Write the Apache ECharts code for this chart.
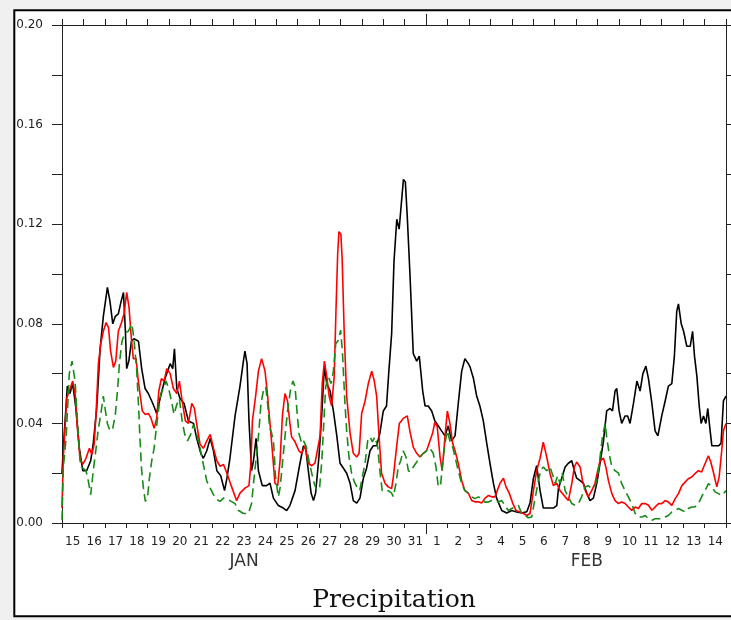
<!DOCTYPE html>
<html>
<head>
<meta charset="utf-8">
<script src="https://cdn.jsdelivr.net/npm/echarts@6/dist/echarts.min.js"></script>
<style>
html,body{margin:0;padding:0;background:#f0f0f0;}
#chart{width:731px;height:620px;}
</style>
</head>
<body>
<div id="chart"></div>
<script>
// Day labels (Jan 15 .. Feb 14), each centred in its day
var dayLabels = ['15','16','17','18','19','20','21','22','23','24','25','26','27','28','29','30','31','1','2','3','4','5','6','7','8','9','10','11','12','13','14'];
var monthLabels = ['','','','','','','','','JAN','','','','','','','','','','','','','','','','FEB','','','','','','',''];
var monthBoundary = [17];
var yTicks = [0, 0.04, 0.08, 0.12, 0.16, 0.20];

// [days since Jan 15 00:00, precipitation]
var blackSeries = [[0,0.020],[0.06,0.030],[0.25,0.055],[0.37,0.052],[0.5,0.056],[0.65,0.046],[0.81,0.030],[0.97,0.021],[1.15,0.021],[1.34,0.025],[1.46,0.032],[1.62,0.046],[1.78,0.070],[1.93,0.083],[2.12,0.0946],[2.24,0.089],[2.37,0.080],[2.49,0.083],[2.63,0.084],[2.76,0.089],[2.87,0.0926],[2.96,0.077],[3.02,0.062],[3.12,0.065],[3.24,0.073],[3.36,0.074],[3.57,0.073],[3.72,0.062],[3.88,0.054],[4.03,0.052],[4.24,0.048],[4.42,0.044],[4.58,0.050],[4.81,0.058],[5.05,0.064],[5.17,0.062],[5.25,0.070],[5.36,0.054],[5.51,0.050],[5.70,0.048],[5.90,0.041],[6.14,0.040],[6.29,0.034],[6.48,0.028],[6.60,0.026],[6.76,0.029],[6.92,0.034],[7.07,0.029],[7.23,0.021],[7.41,0.019],[7.59,0.013],[7.70,0.018],[7.84,0.026],[8.08,0.043],[8.31,0.055],[8.47,0.065],[8.54,0.069],[8.64,0.064],[8.73,0.041],[8.85,0.021],[8.94,0.025],[9.06,0.034],[9.17,0.021],[9.35,0.015],[9.55,0.015],[9.71,0.016],[9.87,0.010],[10.10,0.007],[10.33,0.006],[10.49,0.005],[10.64,0.007],[10.88,0.013],[11.11,0.024],[11.27,0.031],[11.38,0.030],[11.50,0.021],[11.63,0.012],[11.74,0.009],[11.84,0.012],[12.0,0.027],[12.13,0.044],[12.25,0.063],[12.36,0.056],[12.52,0.053],[12.67,0.045],[12.83,0.035],[12.98,0.024],[13.14,0.022],[13.29,0.020],[13.45,0.016],[13.60,0.009],[13.76,0.008],[13.91,0.010],[14.07,0.018],[14.22,0.022],[14.38,0.029],[14.53,0.031],[14.69,0.031],[14.84,0.036],[15.0,0.045],[15.15,0.047],[15.26,0.061],[15.39,0.076],[15.50,0.105],[15.63,0.122],[15.74,0.118],[15.81,0.125],[15.94,0.138],[16.03,0.137],[16.12,0.123],[16.25,0.099],[16.40,0.068],[16.56,0.065],[16.68,0.067],[16.84,0.053],[16.95,0.047],[17.10,0.047],[17.26,0.045],[17.41,0.041],[17.57,0.039],[17.72,0.037],[17.88,0.035],[18.03,0.039],[18.19,0.033],[18.35,0.035],[18.50,0.048],[18.66,0.061],[18.81,0.066],[18.97,0.064],[19.05,0.0627],[19.21,0.058],[19.36,0.051],[19.51,0.047],[19.67,0.041],[19.83,0.032],[19.98,0.024],[20.14,0.016],[20.29,0.010],[20.53,0.005],[20.76,0.004],[21.0,0.005],[21.23,0.0044],[21.46,0.004],[21.70,0.0045],[21.85,0.008],[22.01,0.018],[22.16,0.023],[22.32,0.013],[22.47,0.006],[22.71,0.006],[22.94,0.006],[23.10,0.007],[23.18,0.014],[23.33,0.018],[23.49,0.0225],[23.64,0.024],[23.80,0.025],[23.92,0.021],[24.03,0.018],[24.19,0.017],[24.34,0.016],[24.50,0.012],[24.65,0.009],[24.81,0.010],[24.97,0.016],[25.12,0.024],[25.28,0.033],[25.43,0.045],[25.59,0.046],[25.70,0.045],[25.82,0.053],[25.90,0.054],[26.01,0.045],[26.13,0.040],[26.29,0.043],[26.41,0.043],[26.52,0.040],[26.68,0.048],[26.84,0.057],[26.99,0.053],[27.12,0.060],[27.26,0.063],[27.38,0.058],[27.54,0.048],[27.69,0.037],[27.82,0.035],[28.0,0.043],[28.16,0.049],[28.31,0.055],[28.47,0.056],[28.59,0.067],[28.70,0.085],[28.78,0.088],[28.91,0.080],[29.02,0.077],[29.17,0.071],[29.33,0.071],[29.44,0.077],[29.53,0.067],[29.64,0.059],[29.75,0.047],[29.84,0.040],[29.95,0.043],[30.06,0.040],[30.15,0.046],[30.26,0.037],[30.34,0.031],[30.49,0.031],[30.65,0.031],[30.77,0.032],[30.88,0.049],[31.0,0.051]];

var redSeries = [[0,0.006],[0.06,0.026],[0.22,0.050],[0.34,0.053],[0.5,0.057],[0.61,0.052],[0.72,0.038],[0.84,0.026],[0.97,0.0235],[1.12,0.026],[1.28,0.030],[1.39,0.0275],[1.50,0.0315],[1.59,0.044],[1.70,0.064],[1.81,0.072],[1.93,0.077],[2.06,0.0805],[2.17,0.0785],[2.27,0.069],[2.40,0.0625],[2.51,0.065],[2.63,0.077],[2.76,0.080],[2.90,0.084],[3.02,0.0926],[3.13,0.0866],[3.22,0.076],[3.33,0.066],[3.46,0.066],[3.55,0.058],[3.64,0.052],[3.75,0.045],[3.89,0.0436],[4.03,0.044],[4.16,0.042],[4.30,0.038],[4.42,0.042],[4.52,0.053],[4.64,0.058],[4.77,0.057],[4.89,0.062],[5.05,0.060],[5.20,0.054],[5.36,0.052],[5.48,0.057],[5.61,0.049],[5.76,0.041],[5.90,0.040],[6.06,0.048],[6.18,0.046],[6.32,0.038],[6.45,0.0315],[6.60,0.030],[6.76,0.033],[6.92,0.0356],[7.07,0.030],[7.23,0.025],[7.38,0.0228],[7.54,0.0235],[7.70,0.020],[7.92,0.0145],[8.15,0.009],[8.31,0.012],[8.54,0.014],[8.73,0.015],[8.82,0.024],[8.89,0.041],[9.04,0.051],[9.17,0.061],[9.32,0.066],[9.48,0.061],[9.60,0.051],[9.71,0.040],[9.82,0.029],[9.94,0.016],[10.07,0.015],[10.18,0.025],[10.29,0.043],[10.41,0.052],[10.53,0.049],[10.64,0.040],[10.72,0.0346],[10.88,0.0326],[11.06,0.029],[11.19,0.028],[11.35,0.031],[11.50,0.024],[11.66,0.023],[11.81,0.024],[12.05,0.035],[12.15,0.056],[12.25,0.065],[12.36,0.059],[12.47,0.051],[12.59,0.047],[12.71,0.059],[12.79,0.085],[12.87,0.108],[12.93,0.117],[13.02,0.116],[13.08,0.106],[13.18,0.075],[13.29,0.051],[13.45,0.036],[13.60,0.028],[13.76,0.0265],[13.87,0.028],[13.99,0.044],[14.15,0.049],[14.30,0.056],[14.46,0.061],[14.58,0.057],[14.69,0.051],[14.80,0.035],[14.92,0.020],[15.08,0.016],[15.23,0.0145],[15.39,0.0138],[15.47,0.0185],[15.62,0.0305],[15.75,0.040],[15.93,0.042],[16.12,0.043],[16.24,0.037],[16.40,0.0305],[16.56,0.028],[16.71,0.0265],[16.87,0.028],[17.02,0.029],[17.18,0.033],[17.30,0.036],[17.41,0.0406],[17.52,0.0386],[17.65,0.0265],[17.75,0.021],[17.88,0.0346],[17.99,0.045],[18.11,0.040],[18.24,0.032],[18.35,0.029],[18.50,0.024],[18.66,0.017],[18.81,0.013],[18.97,0.012],[19.13,0.009],[19.28,0.0085],[19.44,0.0085],[19.59,0.008],[19.75,0.010],[19.90,0.011],[20.06,0.0105],[20.21,0.0105],[20.32,0.013],[20.45,0.016],[20.61,0.018],[20.73,0.0145],[20.88,0.012],[21.04,0.008],[21.20,0.005],[21.38,0.0044],[21.54,0.0038],[21.70,0.003],[21.85,0.0038],[22.01,0.013],[22.16,0.021],[22.32,0.026],[22.47,0.0325],[22.63,0.0265],[22.78,0.020],[22.94,0.015],[23.10,0.016],[23.25,0.013],[23.33,0.0125],[23.49,0.0105],[23.64,0.009],[23.80,0.0158],[23.92,0.0225],[24.03,0.0245],[24.19,0.0225],[24.30,0.017],[24.43,0.013],[24.57,0.0105],[24.73,0.013],[24.88,0.0158],[25.01,0.021],[25.12,0.025],[25.28,0.026],[25.39,0.0225],[25.51,0.017],[25.67,0.0118],[25.82,0.009],[25.98,0.0078],[26.13,0.0084],[26.29,0.0078],[26.44,0.0064],[26.60,0.0051],[26.76,0.0064],[26.91,0.0058],[27.07,0.0078],[27.23,0.0078],[27.38,0.0071],[27.54,0.0051],[27.69,0.0064],[27.85,0.0078],[28.0,0.0078],[28.16,0.009],[28.31,0.0084],[28.47,0.0071],[28.63,0.0098],[28.78,0.0118],[28.94,0.015],[29.10,0.0165],[29.24,0.0178],[29.40,0.0185],[29.55,0.0198],[29.71,0.021],[29.86,0.0205],[30.02,0.0238],[30.18,0.027],[30.29,0.0245],[30.41,0.0205],[30.57,0.0145],[30.68,0.0185],[30.80,0.029],[30.88,0.037],[31.0,0.040]];

var greenSeries = [[0,0.0013],[0.06,0.022],[0.19,0.034],[0.34,0.060],[0.47,0.065],[0.61,0.057],[0.72,0.041],[0.84,0.025],[0.97,0.022],[1.12,0.021],[1.23,0.0168],[1.34,0.0114],[1.46,0.021],[1.59,0.030],[1.70,0.038],[1.81,0.0436],[1.93,0.051],[2.01,0.046],[2.12,0.040],[2.24,0.037],[2.37,0.038],[2.49,0.0436],[2.59,0.053],[2.68,0.064],[2.80,0.073],[2.94,0.0765],[3.10,0.077],[3.26,0.080],[3.36,0.074],[3.49,0.061],[3.58,0.046],[3.64,0.034],[3.71,0.022],[3.80,0.014],[3.89,0.0087],[3.99,0.010],[4.08,0.018],[4.19,0.025],[4.30,0.030],[4.39,0.037],[4.50,0.045],[4.61,0.052],[4.74,0.054],[4.86,0.057],[4.98,0.054],[5.11,0.049],[5.23,0.0436],[5.36,0.0476],[5.48,0.050],[5.61,0.041],[5.73,0.0356],[5.86,0.033],[6.01,0.0356],[6.14,0.0396],[6.29,0.0356],[6.45,0.030],[6.60,0.0235],[6.76,0.0168],[6.92,0.014],[7.07,0.0114],[7.23,0.0094],[7.38,0.0087],[7.54,0.010],[7.70,0.0094],[7.84,0.009],[8.08,0.0078],[8.23,0.0051],[8.47,0.0038],[8.70,0.0038],[8.85,0.0078],[8.94,0.0158],[9.04,0.024],[9.17,0.0346],[9.29,0.048],[9.40,0.053],[9.51,0.0547],[9.60,0.048],[9.69,0.0386],[9.79,0.036],[9.88,0.032],[9.97,0.0185],[10.10,0.0105],[10.19,0.0145],[10.29,0.024],[10.41,0.0346],[10.53,0.045],[10.66,0.053],[10.78,0.057],[10.88,0.0547],[10.97,0.045],[11.06,0.036],[11.19,0.032],[11.28,0.033],[11.41,0.0305],[11.53,0.025],[11.66,0.020],[11.78,0.0158],[11.90,0.013],[12.03,0.0145],[12.13,0.025],[12.22,0.040],[12.31,0.0547],[12.44,0.0587],[12.56,0.056],[12.67,0.061],[12.78,0.072],[12.90,0.0734],[13.01,0.0774],[13.09,0.069],[13.15,0.0587],[13.21,0.048],[13.29,0.037],[13.40,0.0265],[13.52,0.020],[13.65,0.0165],[13.77,0.0145],[13.90,0.013],[14.02,0.0185],[14.15,0.024],[14.27,0.033],[14.38,0.0346],[14.49,0.0326],[14.61,0.0346],[14.74,0.0305],[14.84,0.021],[14.95,0.013],[15.08,0.0125],[15.23,0.013],[15.39,0.012],[15.47,0.0105],[15.59,0.0158],[15.70,0.0225],[15.81,0.025],[15.93,0.029],[16.06,0.0265],[16.17,0.021],[16.27,0.0205],[16.40,0.0225],[16.56,0.0245],[16.71,0.0265],[16.87,0.028],[17.02,0.029],[17.18,0.030],[17.33,0.028],[17.46,0.0225],[17.57,0.0145],[17.68,0.0158],[17.77,0.024],[17.88,0.032],[17.99,0.037],[18.11,0.033],[18.24,0.0305],[18.35,0.0265],[18.50,0.021],[18.66,0.0158],[18.81,0.013],[18.97,0.012],[19.13,0.0105],[19.28,0.0098],[19.44,0.0105],[19.59,0.0098],[19.75,0.0084],[19.90,0.0084],[20.06,0.009],[20.21,0.009],[20.37,0.0084],[20.53,0.009],[20.68,0.007],[20.84,0.005],[21.0,0.0058],[21.15,0.0064],[21.31,0.007],[21.46,0.0038],[21.62,0.003],[21.77,0.0021],[21.93,0.0024],[22.04,0.0078],[22.13,0.0118],[22.24,0.017],[22.35,0.021],[22.47,0.0225],[22.63,0.021],[22.78,0.0225],[22.94,0.0185],[23.02,0.0158],[23.14,0.019],[23.25,0.0158],[23.36,0.020],[23.49,0.013],[23.64,0.0105],[23.80,0.0078],[23.95,0.0071],[24.11,0.0078],[24.26,0.0105],[24.42,0.0145],[24.57,0.015],[24.73,0.0138],[24.88,0.0145],[25.01,0.0185],[25.12,0.0265],[25.23,0.0345],[25.36,0.040],[25.43,0.0345],[25.54,0.028],[25.67,0.0225],[25.82,0.021],[25.98,0.020],[26.13,0.0158],[26.29,0.013],[26.44,0.0105],[26.60,0.0078],[26.76,0.0038],[26.91,0.0024],[27.07,0.0024],[27.23,0.003],[27.38,0.0017],[27.54,0.0011],[27.69,0.0017],[27.85,0.0017],[28.0,0.0017],[28.16,0.0024],[28.31,0.003],[28.47,0.0044],[28.63,0.0051],[28.78,0.0058],[28.94,0.0051],[29.10,0.0044],[29.24,0.0058],[29.40,0.0064],[29.55,0.0064],[29.71,0.0078],[29.86,0.0105],[30.02,0.013],[30.18,0.0158],[30.34,0.0145],[30.49,0.0125],[30.65,0.0118],[30.80,0.011],[31.0,0.013]];

var chart = echarts.init(document.getElementById('chart'), null, {renderer: 'canvas'});
var axisColor = '#222';
var labelFont = 'DejaVu Sans';
var nDays = dayLabels.length;

function valueX(pos, tickLen, extra) {
  var ax = {
    type: 'value', min: 0, max: nDays, interval: 1, position: pos,
    axisLine: {show: true, onZero: false, lineStyle: {color: axisColor, width: 1}},
    axisTick: {show: true, inside: false, length: tickLen, lineStyle: {color: axisColor, width: 1}},
    axisLabel: {show: false}, splitLine: {show: false}
  };
  if (extra) { for (var k in extra) ax[k] = extra[k]; }
  return ax;
}

var option = {
  backgroundColor: '#f0f0f0',
  animation: false,
  grid: {left: 62, right: 5, top: 25, bottom: 97, containLabel: false},
  graphic: [
    {type: 'rect', z: -100, shape: {x: 14.3, y: 10.3, width: 740, height: 606},
     style: {fill: '#ffffff', stroke: '#000000', lineWidth: 2}},
    {type: 'text', x: 394, y: 600, z: 10,
     style: {text: 'Precipitation', textAlign: 'center', textVerticalAlign: 'middle',
             font: '25px "DejaVu Serif"', fill: '#111'}}
  ],
  xAxis: [
    valueX('bottom', 5),
    valueX('top', 6),
    {type: 'category', data: dayLabels, position: 'bottom', boundaryGap: true,
     axisLine: {show: false}, axisTick: {show: false}, splitLine: {show: false},
     axisLabel: {show: true, interval: 0, margin: 13, color: '#222', fontFamily: labelFont, fontSize: 12}},
    {type: 'category', data: monthLabels.slice(0, nDays), position: 'bottom', boundaryGap: true,
     axisLine: {show: false}, axisTick: {show: false}, splitLine: {show: false},
     axisLabel: {show: true, interval: 0, margin: 30, color: '#333', fontFamily: labelFont, fontSize: 17}},
    valueX('bottom', 11, {axisLine: {show: false}, axisTick: {show: true, length: 11, customValues: monthBoundary, lineStyle: {color: axisColor}}}),
    valueX('top', 11, {axisLine: {show: false}, axisTick: {show: true, length: 11, customValues: monthBoundary, lineStyle: {color: axisColor}}})
  ],
  yAxis: [
    {type: 'value', min: yTicks[0], max: yTicks[yTicks.length - 1], interval: yTicks[1] - yTicks[0], position: 'left',
     axisLine: {show: true, onZero: false, lineStyle: {color: axisColor, width: 1}},
     axisTick: {show: true, inside: false, length: 10, lineStyle: {color: axisColor}},
     minorTick: {show: true, splitNumber: 2, length: 10, lineStyle: {color: axisColor}},
     splitLine: {show: false}, minorSplitLine: {show: false},
     axisLabel: {show: true, margin: 19, color: '#222', fontFamily: labelFont, fontSize: 12,
                 formatter: function (v) { return v.toFixed(2); }}},
    {type: 'value', min: yTicks[0], max: yTicks[yTicks.length - 1], interval: yTicks[1] - yTicks[0], position: 'right',
     axisLine: {show: true, onZero: false, lineStyle: {color: axisColor, width: 1}},
     axisTick: {show: true, inside: false, length: 10, lineStyle: {color: axisColor}},
     minorTick: {show: true, splitNumber: 2, length: 10, lineStyle: {color: axisColor}},
     splitLine: {show: false}, axisLabel: {show: false}}
  ],
  series: [
    {name: 'black', type: 'line', xAxisIndex: 0, yAxisIndex: 0, data: blackSeries,
     showSymbol: false, symbol: 'none', smooth: false,
     lineStyle: {color: '#000000', width: 1.6}, z: 3},
    {name: 'red', type: 'line', xAxisIndex: 0, yAxisIndex: 0, data: redSeries,
     showSymbol: false, symbol: 'none', smooth: false,
     lineStyle: {color: '#ff0000', width: 1.6}, z: 4},
    {name: 'green', type: 'line', xAxisIndex: 0, yAxisIndex: 0, data: greenSeries,
     showSymbol: false, symbol: 'none', smooth: false,
     lineStyle: {color: '#168c16', width: 1.6, type: [9, 5]}, z: 5}
  ]
};
chart.setOption(option);
</script>
</body>
</html>
